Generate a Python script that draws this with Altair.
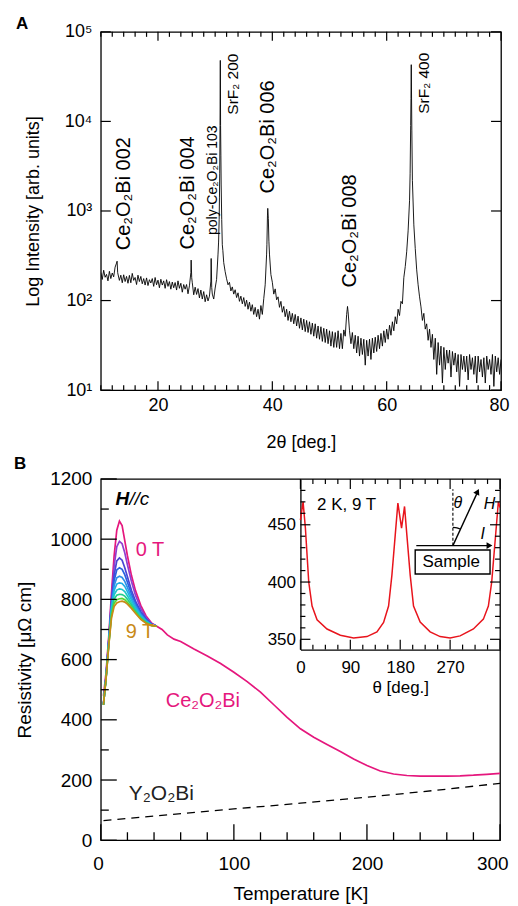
import altair as alt
import pandas as pd
import numpy as np

FONT = "Liberation Sans"

# ------------------------------------------------------------------
# Panel A : XRD pattern (2theta grid every 0.25 deg, one row per degree)
# ------------------------------------------------------------------
XRD_ROWS = [
    [205, 172, 218, 182],   # 10
    [196, 166, 212, 176],   # 11
    [203, 184, 236, 262],   # 12
    [198, 168, 192, 158],   # 13
    [194, 163, 186, 156],   # 14
    [191, 158, 201, 168],   # 15
    [181, 151, 192, 163],   # 16
    [186, 154, 176, 149],   # 17
    [179, 147, 171, 157],   # 18
    [176, 144, 181, 150],   # 19
    [169, 139, 173, 149],   # 20
    [166, 137, 171, 144],   # 21
    [163, 134, 161, 139],   # 22
    [159, 131, 166, 137],   # 23
    [156, 124, 151, 134],   # 24
    [151, 119, 146, 205],   # 25
    [158, 116, 141, 117],   # 26
    [136, 107, 131, 104],   # 27
    [126, 97, 116, 99],     # 28
    [112, 165, 118, 104],   # 29
    [138, 172, 330, 1400],  # 30
    [4200, 420, 265, 210],  # 31
    [175, 150, 160, 128],   # 32
    [142, 118, 132, 108],   # 33
    [122, 98, 112, 92],     # 34
    [108, 86, 101, 80],     # 35
    [96, 76, 90, 70],       # 36
    [84, 66, 80, 62],       # 37
    [88, 70, 105, 150],     # 38
    [330, 950, 330, 195],   # 39
    [160, 118, 135, 102],   # 40
    [110, 84, 98, 74],      # 41
    [86, 66, 80, 60],       # 42
    [76, 58, 72, 55],       # 43
    [70, 52, 67, 49],       # 44
    [64, 47, 62, 45],       # 45
    [60, 44, 58, 42],       # 46
    [56, 40, 55, 38],       # 47
    [52, 37, 51, 35],       # 48
    [49, 34, 48, 33],       # 49
    [46, 31, 45, 30],       # 50
    [44, 30, 46, 29],       # 51
    [43, 29, 47, 40],       # 52
    [70, 75, 46, 33],       # 53
    [44, 29, 41, 26],       # 54
    [40, 24, 38, 25],       # 55
    [37, 19, 36, 24],       # 56
    [37, 22, 38, 26],       # 57
    [39, 27, 41, 29],       # 58
    [43, 31, 46, 34],       # 59
    [48, 37, 53, 41],       # 60
    [58, 46, 66, 55],       # 61
    [80, 68, 98, 92],       # 62
    [180, 240, 350, 600],   # 63
    [1300, 18000, 2200, 700],  # 64
    [380, 220, 150, 110],   # 65
    [85, 60, 72, 48],       # 66
    [55, 36, 48, 30],       # 67
    [42, 22, 38, 15],       # 68
    [34, 19, 31, 12],       # 69
    [30, 17, 28, 20],       # 70
    [28, 14, 27, 19],       # 71
    [26, 16, 25, 11],       # 72
    [25, 17, 24, 16],       # 73
    [24, 13, 25, 17],       # 74
    [23, 15, 24, 12],       # 75
    [24, 16, 22, 14],       # 76
    [23, 12, 24, 17],       # 77
    [22, 15, 25, 11],       # 78
    [24, 16, 23, 15],       # 79
]
XRD_END = [80.0, 22]
XRD_PEAK_2T = [12.85, 12.95, 25.8, 25.9, 29.3, 29.4, 30.6, 30.7, 30.8, 30.85,
               30.9, 30.95, 31.05, 31.15, 31.35, 39.05, 39.15, 39.2, 39.3, 39.4,
               53.1, 53.15, 64.1, 64.2, 64.3, 64.4]
XRD_PEAK_I = [275, 205, 283, 180, 295, 140, 450, 800, 2600, 9000,
              48000, 9000, 2000, 800, 360, 420, 900, 1070, 820, 460,
              80, 86, 2600, 9000, 43000, 8000]

CE_LABELS = ["Ce₂O₂Bi 002", "Ce₂O₂Bi 004", "Ce₂O₂Bi 006", "Ce₂O₂Bi 008"]
CE_LABEL_X = [14.1, 25.2, 39.2, 53.5]
CE_LABEL_Y = [365, 372, 1570, 140]
SRF_LABELS = ["SrF₂ 200", "SrF₂ 400"]
SRF_LABEL_X = [33.2, 66.6]
SRF_LABEL_Y = [11900, 12200]
POLY_LABEL = ["poly-Ce₂O₂Bi 103"]
POLY_X = [29.55]
POLY_Y = [540]

DECADES = [10, 100, 1000, 10000, 100000]
A_MAJOR = [20, 40, 60, 80]
A_MINOR = [v for v in range(10, 81, 2) if v % 20 != 0]

# ------------------------------------------------------------------
# Panel B : resistivity
# ------------------------------------------------------------------
FIELD_LABELS = ["0 T", "1 T", "2 T", "3 T", "4 T", "5 T", "6 T", "7 T", "8 T", "9 T"]
FIELD_COLORS = ["#e5177d", "#8f3fd0", "#4a45d4", "#2a62e0", "#2f8fe8",
                "#22b0e6", "#1fc6c9", "#22cf8a", "#55d432", "#c98a17"]
FIELD_T = [2, 4, 6, 8, 10, 12, 14, 16, 18, 20, 23, 26, 30, 34, 38, 42]
RHO_FIELD = [
    [480, 560, 680, 820, 945, 1030, 1060, 1045, 995, 945, 880, 830, 780, 745, 722, 711],
    [455, 550, 670, 800, 910, 975, 993, 985, 955, 915, 860, 815, 770, 740, 720, 711],
    [452, 548, 665, 790, 880, 928, 938, 930, 905, 875, 830, 795, 760, 735, 718, 711],
    [450, 546, 662, 782, 862, 898, 905, 900, 882, 857, 818, 787, 755, 732, 717, 711],
    [450, 545, 660, 775, 845, 872, 877, 873, 860, 840, 807, 780, 750, 730, 716, 711],
    [450, 544, 657, 768, 830, 851, 855, 853, 843, 826, 798, 773, 746, 728, 715, 711],
    [450, 543, 655, 760, 815, 831, 835, 833, 826, 812, 789, 767, 742, 726, 714, 711],
    [450, 542, 652, 752, 800, 814, 817, 816, 811, 800, 781, 762, 739, 724, 714, 711],
    [450, 541, 650, 745, 787, 799, 802, 803, 799, 790, 774, 757, 736, 722, 713, 711],
    [450, 540, 647, 738, 776, 788, 792, 794, 791, 784, 770, 754, 734, 721, 713, 711],
]
CE_HIGH_T = [46, 50, 55, 60, 70, 80, 90, 100, 110, 120, 130, 140, 150, 160, 170,
             180, 190, 200, 210, 220, 230, 240, 250, 260, 270, 280, 290, 300]
CE_HIGH_R = [700, 682, 668, 660, 635, 612, 587, 558, 527, 492, 450, 408, 370, 342, 318,
             295, 270, 248, 230, 220, 215, 213, 213, 213, 214, 216, 219, 222]
Y2_T = [2, 50, 100, 150, 200, 250, 300]
Y2_R = [65, 84, 104, 123, 143, 165, 189]

B_X_MAJOR = [0, 100, 200, 300]
B_X_MINOR = [v for v in range(0, 301, 20) if v % 100 != 0]
B_Y_MAJOR = list(range(0, 1201, 200))
B_Y_MINOR = list(range(100, 1200, 200))

# inset : angle dependence at 2 K, 9 T
INS_THETA = [0, 4.8, 9, 15, 21, 30, 48, 72, 96, 120, 138, 150, 159, 165, 171, 175.8,
             182.4, 187.8, 192, 198, 204, 216, 234, 252, 270, 288, 312, 330, 339,
             345, 351, 357, 360]
INS_RHO = [454, 470, 447, 400, 379, 367, 359, 353.5, 351.2, 352.4, 356.5, 364.7, 379,
           406, 441, 469, 447, 466, 441, 406, 379, 365, 356.5, 352.4, 351.2, 353,
           359, 367.6, 379, 400, 435, 470, 465]
I_X_MAJOR = [0, 90, 180, 270, 360]
I_X_MINOR = [22.5, 45, 67.5, 112.5, 135, 157.5, 202.5, 225, 247.5, 292.5, 315, 337.5]
I_Y_MAJOR = [350, 400, 450]
I_Y_MINOR = [360, 370, 380, 390, 410, 420, 430, 440, 460, 470, 480]

# ------------------------------------------------------------------
rows = []
for k, row in enumerate(XRD_ROWS):
    for j, v in enumerate(row):
        rows.append((10 + k + 0.25 * j, v))
rows.append(tuple(XRD_END))
rows += list(zip(XRD_PEAK_2T, XRD_PEAK_I))
df_xrd = pd.DataFrame(rows, columns=["tt", "ii"]).sort_values("tt")

WA, HA = 401, 359
WB, HB = 400, 362
IH = 171          # inset height in px (top of inset = top of panel B)
IL = 200          # inset left edge in px

xa = alt.Scale(domain=[10, 80], nice=False, zero=False)
ya = alt.Scale(type="log", domain=[10, 100000], nice=False)
sup_expr = "'10' + ['⁰','¹','²','³','⁴','⁵'][round(log(datum.value)/LN10)]"


def xticks(values, xs, ys, base, y2px, w=1.2):
    df = pd.DataFrame({"v": values, "b": [base] * len(values)})
    return alt.Chart(df).mark_rule(color="black", strokeWidth=w).encode(
        x=alt.X("v:Q", scale=xs, axis=None), y=alt.Y("b:Q", scale=ys, axis=None),
        y2=alt.value(y2px))


def yticks(values, xs, ys, base, x2px, w=1.2):
    df = pd.DataFrame({"v": values, "b": [base] * len(values)})
    return alt.Chart(df).mark_rule(color="black", strokeWidth=w).encode(
        y=alt.Y("v:Q", scale=ys, axis=None), x=alt.X("b:Q", scale=xs, axis=None),
        x2=alt.value(x2px))


a_line = alt.Chart(df_xrd).mark_line(color="black", strokeWidth=0.9, clip=True).encode(
    x=alt.X("tt:Q", scale=xa, axis=alt.Axis(
        orient="bottom", values=A_MAJOR, ticks=False, domain=False,
        labelFontSize=18, labelPadding=6, labelFlush=True, labelFlushOffset=8,
        labelOverlap=False, title="2θ [deg.]", titleFontSize=18, titlePadding=19)),
    y=alt.Y("ii:Q", scale=ya, axis=alt.Axis(
        orient="left", values=DECADES, ticks=False, domain=False, labelExpr=sup_expr,
        labelFontSize=18, labelPadding=9, labelFlush=False, labelOverlap=False,
        title="Log Intensity [arb. units]", titleFontSize=18, titlePadding=22)),
)
a_ticks = [
    xticks(A_MAJOR, xa, ya, 10, HA - 9), xticks(A_MINOR, xa, ya, 10, HA - 5),
    xticks(A_MAJOR, xa, ya, 100000, 9), xticks(A_MINOR, xa, ya, 100000, 5),
    yticks(DECADES, xa, ya, 10, 10), yticks(DECADES, xa, ya, 80, WA - 10),
]


def vtext(labels, xs_, ys_, size):
    df = pd.DataFrame({"x": xs_, "y": ys_, "label": labels})
    return alt.Chart(df).mark_text(angle=270, align="left", baseline="middle",
                                   fontSize=size, font=FONT, color="black").encode(
        x=alt.X("x:Q", scale=xa, axis=None), y=alt.Y("y:Q", scale=ya, axis=None),
        text="label:N")


a_ce = vtext(CE_LABELS, CE_LABEL_X, CE_LABEL_Y, 20)
a_srf = vtext(SRF_LABELS, SRF_LABEL_X, SRF_LABEL_Y, 15.5)
a_poly = vtext(POLY_LABEL, POLY_X, POLY_Y, 14)

panel_a = alt.layer(a_line, *a_ticks, a_ce, a_srf, a_poly).resolve_axis(
    x="independent", y="independent").properties(
    width=WA, height=HA,
    title=alt.TitleParams("A", anchor="start", frame="group", dx=-85, fontSize=17,
                          fontWeight="bold", font=FONT, offset=-10))

# ------------------------------------------------------------------
brow = []
for lab, rr in zip(FIELD_LABELS, RHO_FIELD):
    for t, r in zip(FIELD_T, rr):
        brow.append((lab, t, r))
for t, r in zip(CE_HIGH_T, CE_HIGH_R):
    brow.append((FIELD_LABELS[0], t, r))
df_b = pd.DataFrame(brow, columns=["field", "T", "R"])
df_y2 = pd.DataFrame({"T": Y2_T, "R": Y2_R})
df_ins = pd.DataFrame({"th": INS_THETA, "rho": INS_RHO})

xb = alt.Scale(domain=[0, 300], nice=False, zero=False)
yb = alt.Scale(domain=[0, 1200], nice=False, zero=False)
xi = alt.Scale(domain=[0, 360], range=[IL, WB], nice=False, zero=False)
yi = alt.Scale(domain=[341, 490], range=[IH, 0], nice=False, zero=False)

b_curves = alt.Chart(df_b).mark_line(strokeWidth=1.7, clip=True).encode(
    x=alt.X("T:Q", scale=xb, axis=alt.Axis(
        orient="bottom", values=B_X_MAJOR, ticks=False, domain=False,
        labelFontSize=19, labelPadding=14, labelFlush=True, labelFlushOffset=8,
        labelOverlap=False, title="Temperature [K]", titleFontSize=19, titlePadding=11)),
    y=alt.Y("R:Q", scale=yb, axis=alt.Axis(
        orient="left", values=B_Y_MAJOR, ticks=False, domain=False, format="d",
        labelFontSize=19, labelPadding=9, labelFlush=False, labelOverlap=False,
        title="Resistivity [μΩ cm]", titleFontSize=19, titlePadding=15)),
    color=alt.Color("field:N", scale=alt.Scale(domain=FIELD_LABELS, range=FIELD_COLORS),
                    legend=None),
    order=alt.Order("T:Q"),
)
b_y2 = alt.Chart(df_y2).mark_line(color="black", strokeWidth=1.3, strokeDash=[8, 6]).encode(
    x=alt.X("T:Q", scale=xb, axis=None), y=alt.Y("R:Q", scale=yb, axis=None))
b_ticks = [
    xticks(B_X_MAJOR, xb, yb, 0, HB - 16, 1.3), xticks(B_X_MINOR, xb, yb, 0, HB - 8, 1.3),
    yticks(B_Y_MAJOR, xb, yb, 0, 16, 1.3), yticks(B_Y_MINOR, xb, yb, 0, 8, 1.3),
]

B_TEXT = ["0 T", "9 T", "Ce₂O₂Bi"]
B_TEXT_T = [26.3, 18.8, 48.8]
B_TEXT_R = [965, 690, 464]
B_TEXT_C = ["#e5177d", "#c98a17", "#e5177d"]
df_bt = pd.DataFrame({"T": B_TEXT_T, "R": B_TEXT_R, "label": B_TEXT, "c": B_TEXT_C})
b_text = alt.Chart(df_bt).mark_text(align="left", baseline="middle", fontSize=20,
                                    font=FONT).encode(
    x=alt.X("T:Q", scale=xb, axis=None), y=alt.Y("R:Q", scale=yb, axis=None),
    text="label:N", color=alt.Color("c:N", scale=None))
df_y2t = pd.DataFrame({"T": [21], "R": [153], "label": ["Y₂O₂Bi"]})
b_y2text = alt.Chart(df_y2t).mark_text(align="left", baseline="middle", fontSize=21,
                                       font=FONT, color="#222222").encode(
    x=alt.X("T:Q", scale=xb, axis=None), y=alt.Y("R:Q", scale=yb, axis=None), text="label:N")
df_h = pd.DataFrame({"T": [21.4], "R": [1133]})
b_h1 = alt.Chart(df_h).mark_text(align="right", baseline="middle", fontSize=19, font=FONT,
                                 fontStyle="italic", fontWeight="bold", text="H").encode(
    x=alt.X("T:Q", scale=xb, axis=None), y=alt.Y("R:Q", scale=yb, axis=None))
b_h2 = alt.Chart(df_h).mark_text(align="left", baseline="middle", fontSize=19, font=FONT,
                                 fontStyle="italic", text="//c").encode(
    x=alt.X("T:Q", scale=xb, axis=None), y=alt.Y("R:Q", scale=yb, axis=None))

# inset
i_line = alt.Chart(df_ins).mark_line(color="#e8141c", strokeWidth=1.5, clip=True).encode(
    x=alt.X("th:Q", scale=xi, axis=alt.Axis(
        orient="bottom", offset=IH - HB, values=[0, 90, 180, 270], ticks=False,
        domain=True, domainColor="black", domainWidth=1.3,
        labelFontSize=17, labelPadding=10, labelFlush=False, labelOverlap=False,
        title="θ [deg.]", titleFontSize=17, titlePadding=4)),
    y=alt.Y("rho:Q", scale=yi, axis=alt.Axis(
        orient="left", offset=-IL, values=I_Y_MAJOR, ticks=False, domain=True,
        domainColor="black", domainWidth=1.3, labelFontSize=17, labelPadding=5,
        labelFlush=False, labelOverlap=False, title=None)),
)
i_ticks = [
    xticks(I_X_MAJOR, xi, yi, 341, IH - 10), xticks(I_X_MINOR, xi, yi, 341, IH - 5),
    xticks(I_X_MAJOR, xi, yi, 490, 10), xticks(I_X_MINOR, xi, yi, 490, 5),
    yticks(I_Y_MAJOR, xi, yi, 0, IL + 10), yticks(I_Y_MINOR, xi, yi, 0, IL + 5),
    yticks(I_Y_MAJOR, xi, yi, 360, WB - 10), yticks(I_Y_MINOR, xi, yi, 360, WB - 5),
]

# inset sketch (sample, current and field directions)
SAMPLE_BOX = {"x": [207], "x2": [342], "y": [407], "y2": [428]}
I_ARROW = {"x": [209], "x2": [338], "y": [431.8]}
H_ARROW = {"x": [275], "x2": [318], "y": [431.8], "y2": [477]}
DASH_LINE = {"x": [275], "y": [431.8], "y2": [481]}
ARC_TH = [275, 282.3, 289.2]
ARC_RHO = [447.7, 447.3, 446.1]
INS_TEXT = ["2 K, 9 T", "Sample"]
INS_TEXT_TH = [30, 220]
INS_TEXT_RHO = [467.5, 417.5]
INS_ITAL = ["θ", "H", "I"]
INS_ITAL_TH = [284, 341, 329]
INS_ITAL_RHO = [469, 468, 442]

i_box = alt.Chart(pd.DataFrame(SAMPLE_BOX)).mark_rect(
    fill="white", stroke="black", strokeWidth=1.4).encode(
    x=alt.X("x:Q", scale=xi, axis=None), x2="x2:Q",
    y=alt.Y("y:Q", scale=yi, axis=None), y2="y2:Q")
i_iarr = alt.Chart(pd.DataFrame(I_ARROW)).mark_rule(color="black", strokeWidth=1.4).encode(
    x=alt.X("x:Q", scale=xi, axis=None), x2="x2:Q", y=alt.Y("y:Q", scale=yi, axis=None))
i_harr = alt.Chart(pd.DataFrame(H_ARROW)).mark_rule(color="black", strokeWidth=1.4).encode(
    x=alt.X("x:Q", scale=xi, axis=None), x2="x2:Q",
    y=alt.Y("y:Q", scale=yi, axis=None), y2="y2:Q")
i_dash = alt.Chart(pd.DataFrame(DASH_LINE)).mark_rule(
    color="black", strokeWidth=1.1, strokeDash=[3, 2]).encode(
    x=alt.X("x:Q", scale=xi, axis=None), y=alt.Y("y:Q", scale=yi, axis=None), y2="y2:Q")
i_arc = alt.Chart(pd.DataFrame({"th": ARC_TH, "rho": ARC_RHO})).mark_line(
    color="black", strokeWidth=1.1, interpolate="monotone").encode(
    x=alt.X("th:Q", scale=xi, axis=None), y=alt.Y("rho:Q", scale=yi, axis=None))
i_head1 = alt.Chart(pd.DataFrame({"th": [341], "rho": [431.8]})).mark_point(
    shape="triangle-right", filled=True, size=45, color="black", opacity=1).encode(
    x=alt.X("th:Q", scale=xi, axis=None), y=alt.Y("rho:Q", scale=yi, axis=None))
i_head2 = alt.Chart(pd.DataFrame({"th": [319.5], "rho": [479]})).mark_point(
    shape="triangle-up", filled=True, size=45, color="black", opacity=1, angle=26).encode(
    x=alt.X("th:Q", scale=xi, axis=None), y=alt.Y("rho:Q", scale=yi, axis=None))
i_text = alt.Chart(pd.DataFrame({"th": INS_TEXT_TH, "rho": INS_TEXT_RHO, "t": INS_TEXT})).mark_text(
    baseline="middle", align="left", fontSize=17, font=FONT, color="black").encode(
    x=alt.X("th:Q", scale=xi, axis=None), y=alt.Y("rho:Q", scale=yi, axis=None),
    text="t:N")
i_ital = alt.Chart(pd.DataFrame({"th": INS_ITAL_TH, "rho": INS_ITAL_RHO, "t": INS_ITAL})).mark_text(
    baseline="middle", align="center", fontSize=16, font=FONT, fontStyle="italic",
    color="black").encode(
    x=alt.X("th:Q", scale=xi, axis=None), y=alt.Y("rho:Q", scale=yi, axis=None), text="t:N")

panel_b = alt.layer(
    b_curves, b_y2, *b_ticks, b_text, b_y2text, b_h1, b_h2,
    i_line, *i_ticks, i_box, i_iarr, i_harr, i_dash, i_arc,
    i_head1, i_head2, i_text, i_ital,
).resolve_scale(x="independent", y="independent", color="independent").resolve_axis(
    x="independent", y="independent").properties(
    width=WB, height=HB,
    title=alt.TitleParams("B", anchor="start", frame="group", dx=-87, fontSize=17,
                          fontWeight="bold", font=FONT, offset=-3))

chart = alt.vconcat(panel_a, panel_b, spacing=2).properties(
    padding={"left": 5, "top": 5, "right": 0, "bottom": 0}).configure_view(
    stroke="black", strokeWidth=1.3).configure_axis(
    labelFont=FONT, titleFont=FONT, labelColor="black", titleColor="black",
    titleFontWeight="normal", domainColor="black", tickColor="black", grid=False
).configure_title(font=FONT, color="black")

chart.save("out.html", embed_options={"renderer": "svg", "actions": False})
